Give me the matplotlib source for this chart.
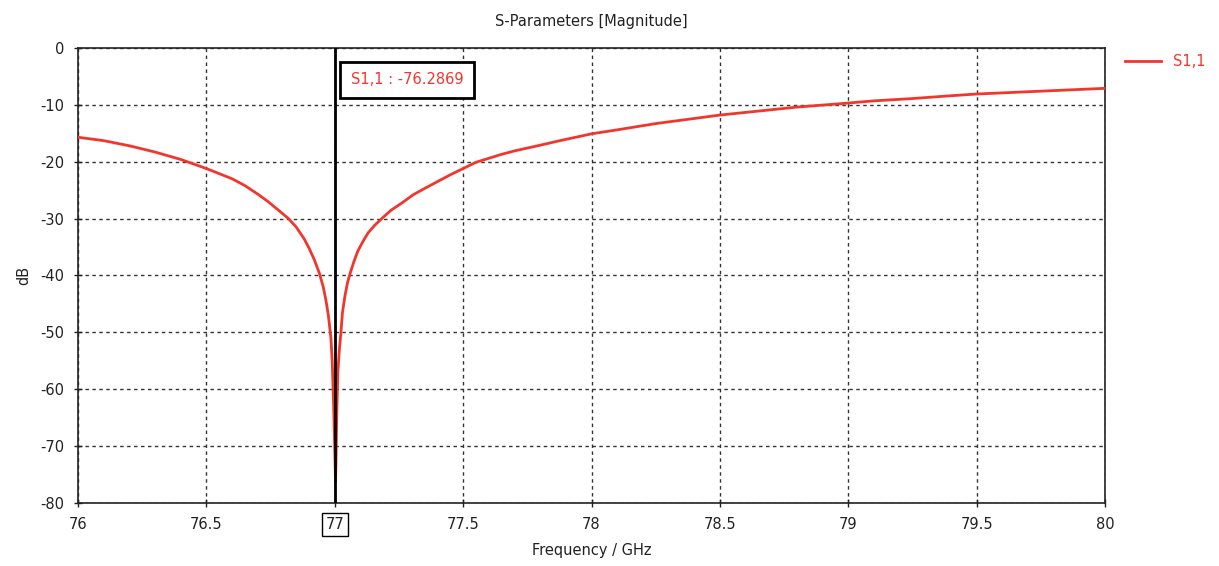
import matplotlib.pyplot as plt

# S1,1 magnitude
freq_ghz = [76.0, 76.1, 76.2, 76.3, 76.4, 76.5, 76.55, 76.6, 76.65, 76.7,
            76.74, 76.78, 76.82, 76.85, 76.88, 76.9, 76.92, 76.94, 76.955,
            76.965, 76.975, 76.985, 76.99, 76.995, 76.998, 77.003,
            77.005, 77.008, 77.012, 77.018, 77.024, 77.03, 77.04, 77.05,
            77.06, 77.075, 77.09, 77.11, 77.13, 77.155, 77.183, 77.22, 77.26,
            77.306, 77.35, 77.4, 77.45, 77.5, 77.55, 77.6, 77.65, 77.7, 77.8,
            77.877, 78.0, 78.1, 78.25, 78.4, 78.5, 78.65, 78.8, 78.97, 79.1,
            79.25, 79.4, 79.5, 79.65, 79.8, 80.0]
s11_db = [-15.7, -16.3, -17.2, -18.3, -19.6, -21.2, -22.1, -23.0, -24.2, -25.7,
          -27.0, -28.5, -30.0, -31.5, -33.5, -35.2, -37.2, -39.6, -42.0,
          -44.2, -47.0, -51.0, -55.0, -62.0, -67.0, -76.3,
          -72.0, -64.0, -57.0, -53.0, -50.0, -46.5, -43.5, -41.2,
          -39.6, -37.5, -35.7, -34.0, -32.5, -31.2, -30.0, -28.5, -27.3,
          -25.8, -24.7, -23.5, -22.3, -21.2, -20.1, -19.4, -18.7, -18.1, -17.1,
          -16.3, -15.1, -14.4, -13.3, -12.4, -11.8, -11.1, -10.4, -9.8, -9.3,
          -8.9, -8.4, -8.1, -7.8, -7.5, -7.1]

marker_x = 77
marker_text = "S1,1 : -76.2869"
xticks = [76, 76.5, 77, 77.5, 78, 78.5, 79, 79.5, 80]
xtick_labels = ["76", "76.5", "77", "77.5", "78", "78.5", "79", "79.5", "80"]
yticks = [0, -10, -20, -30, -40, -50, -60, -70, -80]

red = '#f0372d'

plt.rcParams['font.family'] = ['DejaVu Sans']
plt.rcParams['axes.unicode_minus'] = False
fig = plt.figure(figsize=(12.19, 5.66), dpi=100)
ax = fig.add_axes([0.064, 0.1113, 0.8425, 0.804])

ax.plot(freq_ghz, s11_db, color=red, lw=2, label="S1,1", zorder=3)
ax.axvline(marker_x, color='black', lw=2, zorder=4)

ax.set_xlim(76, 80)
ax.set_ylim(-80, 0)
ax.set_xticks(xticks)
ax.set_xticklabels(xtick_labels)
ax.set_yticks(yticks)

ax.grid(True, color='#333333', linestyle=(0, (2.5, 2.5)), lw=1.0)
ax.tick_params(direction='inout', length=6, width=1, labelsize=10.5,
               colors='#222222', pad=7)
for s in ax.spines.values():
    s.set_linewidth(1.2)
    s.set_color('#222222')

# boxed marker tick label
for lbl in ax.get_xticklabels():
    if lbl.get_text() == "77":
        lbl.set_bbox(dict(boxstyle='square,pad=0.25', fc='white', ec='black', lw=1))

ax.text(0.2655, 0.93, marker_text, transform=ax.transAxes, color=red,
        fontsize=10.5, va='center', ha='left',
        bbox=dict(boxstyle='square,pad=0.7', fc='white', ec='black', lw=2), zorder=5)

ax.set_title("S-Parameters [Magnitude]", fontsize=10.5, pad=16, color='#222222')
ax.set_xlabel("Frequency / GHz", fontsize=10.5, color='#222222', labelpad=8)
ax.set_ylabel("dB", fontsize=10.5, color='#222222', labelpad=6)

fig.legend(loc='upper left', bbox_to_anchor=(0.918, 0.915), frameon=False,
           fontsize=10.5, labelcolor=red, handlelength=2.5, borderaxespad=0)

plt.savefig('out.png', dpi=100)
